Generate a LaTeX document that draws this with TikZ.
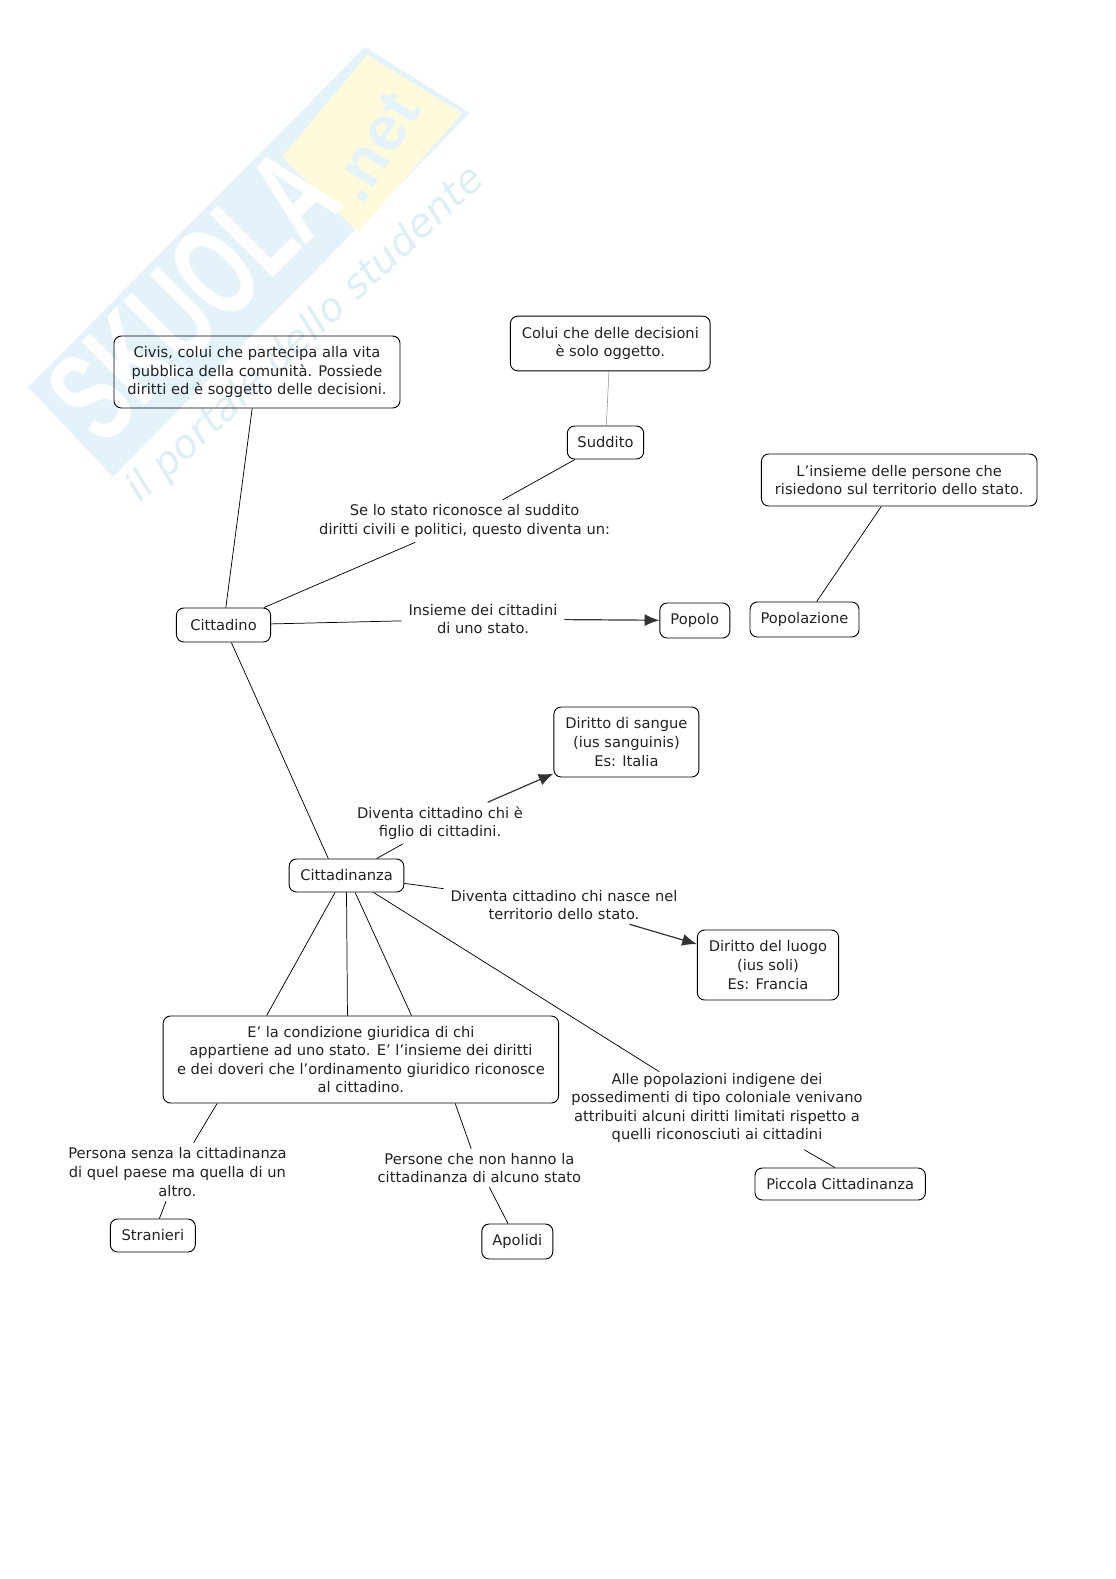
\documentclass[tikz,border=0pt]{standalone}
\usepackage{fontspec}
\usepackage{graphicx}
\usepackage{tikz}
\usetikzlibrary{arrows.meta}
\setmainfont{DejaVu Sans}
\newfontfamily\markfont{Liberation Sans}
\definecolor{markblue}{HTML}{E4F3FA}
\definecolor{markyellow}{HTML}{FFFADC}
\definecolor{markline}{HTML}{DDEEF6}
\definecolor{inkgray}{HTML}{222222}
\tikzset{
  concept/.style={draw=black, line width=0.7pt, rounded corners=5.5pt, align=center, inner sep=0pt, text=inkgray, font=\fontsize{11}{13.9}\selectfont},
  linkphrase/.style={align=center, inner sep=0pt, text=inkgray, font=\fontsize{11}{13.9}\selectfont},
  link/.style={line width=0.55pt, black},
  linkarrow/.style={line width=0.9pt, black!80, -{Latex[length=11pt,width=9pt]}}
}
\begin{document}
\begin{tikzpicture}[x=0.75pt,y=-0.75pt]
\useasboundingbox (0,0) rectangle (1116,1579);
\fill[markblue] (28,387) -- (365,47) -- (470,113) -- (113,477) -- cycle;
\fill[markyellow] (282,157) -- (367,55) -- (462,113) -- (358,232) -- cycle;
\node[rotate=45, text=white, font=\markfont\bfseries\fontsize{61}{61}\selectfont, inner sep=0pt] (markname) at (193,295) {\scalebox{1}[1.6]{SKUOLA}};
\node[rotate=58, text=markblue, font=\markfont\bfseries\fontsize{48}{48}\selectfont, inner sep=0pt] (markdomain) at (375,147) {.net};
\node[rotate=43, text=markline, font=\itshape\fontsize{29.7}{29.7}\selectfont, inner sep=0pt] (markslogan) at (306,335) {il portale dello studente};

\node[concept, minimum width=214.5pt, minimum height=54pt] (civis) at (257,372) {Civis, colui che partecipa alla vita\\pubblica della comunità. Possiede\\diritti ed è soggetto delle decisioni.};
\node[concept, minimum width=149.85pt, minimum height=41pt] (oggetto) at (610.3,343.5) {Colui che delle decisioni\\è solo oggetto.};
\node[concept, minimum width=57.3pt, minimum height=24.75pt] (suddito) at (605.5,442.5) {Suddito};
\node[concept, minimum width=206.7pt, minimum height=39pt] (residenti) at (899.2,480) {L'insieme delle persone che\\risiedono sul territorio dello stato.};
\node[concept, minimum width=70.6pt, minimum height=25.5pt] (cittadino) at (223.5,625) {Cittadino};
\node[concept, minimum width=52.5pt, minimum height=26.25pt] (popolo) at (694.8,620.5) {Popolo};
\node[concept, minimum width=81.75pt, minimum height=26.25pt] (popolazione) at (804.5,619.5) {Popolazione};
\node[concept, minimum width=108.8pt, minimum height=52.5pt] (sangue) at (626.4,742) {Diritto di sangue\\(ius sanguinis)\\Es: Italia};
\node[concept, minimum width=86pt, minimum height=24.75pt] (cittadinanza) at (346.5,875.5) {Cittadinanza};
\node[concept, minimum width=106pt, minimum height=52.5pt] (luogo) at (768,965) {Diritto del luogo\\(ius soli)\\Es: Francia};
\node[concept, minimum width=296.6pt, minimum height=65.25pt] (condizione) at (360.9,1059.5) {E' la condizione giuridica di chi\\appartiene ad uno stato. E' l'insieme dei diritti\\e dei doveri che l'ordinamento giuridico riconosce\\al cittadino.};
\node[concept, minimum width=127.8pt, minimum height=24pt] (piccola) at (840.2,1184) {Piccola Cittadinanza};
\node[concept, minimum width=63.75pt, minimum height=24.75pt] (stranieri) at (152.8,1235.5) {Stranieri};
\node[concept, minimum width=53.25pt, minimum height=26.25pt] (apolidi) at (517.3,1241.5) {Apolidi};

\node[linkphrase, minimum width=232.5pt, minimum height=31.5pt] (riconosce) at (464.6,521) {Se lo stato riconosce al suddito\\diritti civili e politici, questo diventa un:};
\node[linkphrase, minimum width=121.5pt, minimum height=30pt] (insieme) at (483,619) {Insieme dei cittadini\\di uno stato.};
\node[linkphrase, minimum width=135pt, minimum height=30.75pt] (figlio) at (440,823) {Diventa cittadino chi è\\figlio di cittadini.};
\node[linkphrase, minimum width=180pt, minimum height=28.5pt] (nasce) at (564,905) {Diventa cittadino chi nasce nel\\territorio dello stato.};
\node[linkphrase, minimum width=232.5pt, minimum height=54pt] (indigene) at (717,1108) {Alle popolazioni indigene dei\\possedimenti di tipo coloniale venivano\\attribuiti alcuni diritti limitati rispetto a\\quelli riconosciuti ai cittadini};
\node[linkphrase, minimum width=172.5pt, minimum height=43.5pt] (persona) at (177.4,1172) {Persona senza la cittadinanza\\di quel paese ma quella di un\\altro.};
\node[linkphrase, minimum width=161pt, minimum height=28.5pt] (persone) at (479.4,1168) {Persone che non hanno la\\cittadinanza di alcuno stato};

\draw[line width=0.4pt, black!45] (oggetto) -- (suddito);
\draw[link] (civis) -- (cittadino);
\draw[link] (suddito) -- (riconosce);
\draw[link] (riconosce) -- (cittadino);
\draw[link] (cittadino) -- (insieme);
\draw[linkarrow] (insieme) -- (popolo);
\draw[link] (residenti) -- (popolazione);
\draw[link] (cittadino) -- (cittadinanza.137);
\draw[link] (cittadinanza) -- (figlio);
\draw[linkarrow] (figlio) -- (sangue);
\draw[link] (cittadinanza) -- (nasce);
\draw[linkarrow] (nasce) -- (luogo);
\draw[link] (cittadinanza.-124) -- (condizione.155);
\draw[link] (cittadinanza.-90) -- (condizione.107);
\draw[link] (cittadinanza.-63) -- (condizione.41);
\draw[link] (cittadinanza) -- (indigene);
\draw[link, shorten <=8pt] (indigene.-25.5) -- (piccola.108);
\draw[link] (condizione.-163.4) -- (persona.61);
\draw[link] (persona) -- (stranieri);
\draw[link] (condizione.-25.6) -- (persone.113);
\draw[link] (persone) -- (apolidi);
\end{tikzpicture}
\end{document}
